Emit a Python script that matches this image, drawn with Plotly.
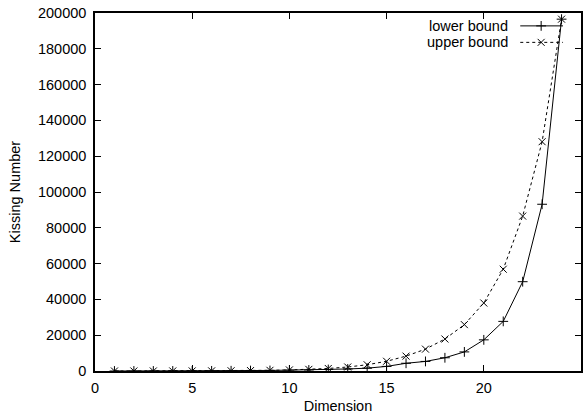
import plotly.graph_objects as go

dimension = list(range(1, 25))
lower_bound = [2, 6, 12, 24, 40, 72, 126, 240, 306, 500, 582, 840, 1130, 1582,
               2564, 4320, 5346, 7398, 10668, 17400, 27720, 49896, 93150, 196560]
upper_bound = [2, 6, 12, 25, 46, 82, 140, 240, 380, 595, 915, 1416, 2233, 3492,
               5431, 8313, 12215, 17877, 25901, 37974, 56852, 86537, 128096, 196560]

x_ticks = [0, 5, 10, 15, 20, 25]
y_ticks = [0, 20000, 40000, 60000, 80000, 100000, 120000, 140000, 160000, 180000, 200000]

FONT = "Arial, Liberation Sans, sans-serif"
FS = 14.5
DASH = "3px,3px"

fig = go.Figure()
fig.add_trace(go.Scatter(x=dimension, y=lower_bound, mode="lines+markers", name="lower bound",
                         line=dict(color="black", width=1),
                         marker=dict(symbol="cross-thin", size=7, line=dict(color="black", width=1)),
                         showlegend=False))
fig.add_trace(go.Scatter(x=dimension, y=upper_bound, mode="lines+markers", name="upper bound",
                         line=dict(color="black", width=1, dash=DASH),
                         marker=dict(symbol="x-thin", size=7, line=dict(color="black", width=1)),
                         showlegend=False))

# manual gnuplot-style legend (text then sample) on an overlay paper-like axis
leg_items = [("lower bound", "solid", "cross-thin"), ("upper bound", DASH, "x-thin")]
leg_y = [0.964, 0.918]
for (label, dash, sym), yy in zip(leg_items, leg_y):
    fig.add_trace(go.Scatter(x=[0.875, 0.963], y=[yy, yy], xaxis="x2", yaxis="y2", mode="lines",
                             line=dict(color="black", width=1, dash=dash), showlegend=False,
                             hoverinfo="skip"))
    fig.add_trace(go.Scatter(x=[0.918], y=[yy], xaxis="x2", yaxis="y2", mode="markers",
                             marker=dict(symbol=sym, size=7, line=dict(color="black", width=1)),
                             showlegend=False, hoverinfo="skip"))
    fig.add_annotation(x=0.8545, y=yy, xref="x2", yref="y2", text=label, showarrow=False,
                       xanchor="right", yanchor="middle",
                       font=dict(family=FONT, size=FS, color="black"))

axis_common = dict(showgrid=False, zeroline=False, showline=True, linecolor="black", linewidth=1.5,
                   mirror="allticks", ticks="inside", ticklen=6, tickcolor="black", tickwidth=1,
                   tickfont=dict(family=FONT, size=FS, color="black"))

fig.update_layout(
    width=588, height=417,
    margin=dict(l=95, r=5, t=11, b=45),
    paper_bgcolor="white", plot_bgcolor="white",
    font=dict(family=FONT, size=FS, color="black"),
    xaxis=dict(range=[0, 25], tickvals=x_ticks, ticktext=[str(v) for v in x_ticks],
               ticklabelstandoff=3,
               title=dict(text="Dimension", font=dict(family=FONT, size=FS), standoff=6),
               **axis_common),
    yaxis=dict(range=[0, 200000], tickvals=y_ticks, ticktext=[str(v) for v in y_ticks],
               ticklabelstandoff=4,
               title=dict(text="Kissing Number", font=dict(family=FONT, size=FS), standoff=14),
               **axis_common),
    xaxis2=dict(range=[0, 1], overlaying="x", visible=False, fixedrange=True),
    yaxis2=dict(range=[0, 1], overlaying="y", visible=False, fixedrange=True),
)

fig.write_html("out.html")
